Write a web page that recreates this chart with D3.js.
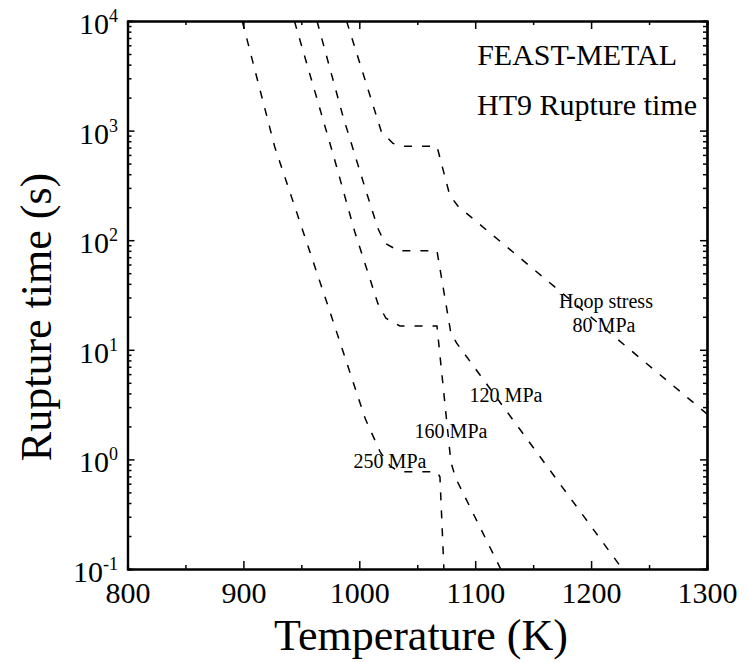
<!DOCTYPE html>
<html>
<head>
<meta charset="utf-8">
<script src="https://cdn.jsdelivr.net/npm/d3@7"></script>
<style>
body { margin: 0; background: #fff; }
text { font-family: "Liberation Serif", "Times New Roman", serif; fill: #000; }
</style>
</head>
<body>
<script>
// rupture curves, temperature (K) vs rupture time (s)
var temp80 = [989, 1019, 1029, 1037, 1067, 1078, 1085, 1300];
var time80 = [10000, 980, 765, 720, 720, 258, 205, 2.6];
var temp120 = [963.5, 986, 1006, 1016, 1022, 1034, 1067, 1079, 1084, 1227];
var time120 = [10000, 1340, 277, 129, 94, 80, 80, 14.2, 11.5, 0.1];
var temp160 = [944, 978, 996, 1016, 1023, 1035, 1067, 1079, 1083, 1122];
var time160 = [10000, 578, 120, 26.5, 19.4, 16.5, 16.5, 0.95, 0.68, 0.1];
var temp250 = [899, 927, 975, 1005, 1018, 1026.5, 1035, 1067, 1069.6, 1073];
var time250 = [10000, 713, 21.7, 2.37, 1.17, 0.87, 0.77, 0.77, 0.69, 0.1];

var xTicks = [800, 900, 1000, 1100, 1200, 1300];
var xMinor = [850, 950, 1050, 1150, 1250];
var yExp = [-1, 0, 1, 2, 3, 4];

var W = 748, H = 662;
var pLeft = 127.5, pRight = 707, pTop = 21, pBottom = 569;

var svg = d3.select("body").append("svg").attr("width", W).attr("height", H);

var x = d3.scaleLinear().domain([800, 1300]).range([pLeft, pRight]);
var y = d3.scaleLog().domain([0.1, 10000]).range([pBottom, pTop]);

var yMajor = yExp.map(function(e){ return Math.pow(10, e); });
var yMinor = [];
for (var e = -1; e < 4; e++) {
    for (var k = 2; k < 10; k++) yMinor.push(k * Math.pow(10, e));
}

svg.append("defs").append("clipPath").attr("id", "clip")
    .append("rect").attr("x", pLeft).attr("y", pTop)
    .attr("width", pRight - pLeft).attr("height", pBottom - pTop);

// curves
var series = [[temp80, time80], [temp120, time120], [temp160, time160], [temp250, time250]];
var line = d3.line().x(function(d){ return x(d[0]); }).y(function(d){ return y(d[1]); });
var curves = svg.append("g").attr("clip-path", "url(#clip)");
for (var i = 0; i < series.length; i++) {
    var pts = series[i][0].map(function(t, j){ return [t, series[i][1][j]]; });
    curves.append("path")
        .attr("d", line(pts))
        .attr("fill", "none")
        .attr("stroke", "#000")
        .attr("stroke-width", 1.5)
        .attr("stroke-dasharray", "8,10");
}

// axes, ticks pointing inward on all four sides
function styleAxis(g) {
    g.selectAll("path.domain").attr("stroke", "#000").attr("stroke-width", 2.2);
    g.selectAll(".tick line").attr("stroke", "#000").attr("stroke-width", 1.5);
}

var bottomAxis = svg.append("g").attr("transform", "translate(0," + pBottom + ")")
    .call(d3.axisBottom(x).tickValues(xTicks).tickFormat(d3.format("d"))
        .tickSize(-8).tickSizeOuter(0).tickPadding(13));
bottomAxis.selectAll("text").attr("font-size", 30).attr("font-family", "Liberation Serif").attr("fill", "#000");
bottomAxis.call(styleAxis);
svg.append("g").attr("transform", "translate(0," + pBottom + ")")
    .call(d3.axisBottom(x).tickValues(xMinor).tickSize(-4).tickFormat("")).call(styleAxis);

svg.append("g").attr("transform", "translate(0," + pTop + ")")
    .call(d3.axisTop(x).tickValues(xTicks).tickSize(-8).tickSizeOuter(0).tickFormat("")).call(styleAxis);
svg.append("g").attr("transform", "translate(0," + pTop + ")")
    .call(d3.axisTop(x).tickValues(xMinor).tickSize(-4).tickFormat("")).call(styleAxis);

svg.append("g").attr("transform", "translate(" + pLeft + ",0)")
    .call(d3.axisLeft(y).tickValues(yMajor).tickSize(-7).tickSizeOuter(0).tickFormat("")).call(styleAxis);
svg.append("g").attr("transform", "translate(" + pLeft + ",0)")
    .call(d3.axisLeft(y).tickValues(yMinor).tickSize(-4).tickFormat("")).call(styleAxis);
svg.append("g").attr("transform", "translate(" + pRight + ",0)")
    .call(d3.axisRight(y).tickValues(yMajor).tickSize(-7).tickSizeOuter(0).tickFormat("")).call(styleAxis);
svg.append("g").attr("transform", "translate(" + pRight + ",0)")
    .call(d3.axisRight(y).tickValues(yMinor).tickSize(-4).tickFormat("")).call(styleAxis);

// y tick labels with superscripts
var ylab = svg.append("g").selectAll("text").data(yExp).enter().append("text")
    .attr("x", 118)
    .attr("y", function(d){ return y(Math.pow(10, d)) + 13; })
    .attr("text-anchor", "end")
    .attr("font-size", 30);
ylab.append("tspan").text("10");
ylab.append("tspan").attr("font-size", 18).attr("dy", -12).text(function(d){ return d; });

// axis titles
svg.append("text").attr("x", 421).attr("y", 650)
    .attr("text-anchor", "middle").attr("font-size", 44).text("Temperature (K)");
svg.append("text").attr("transform", "translate(51,317) rotate(-90)")
    .attr("text-anchor", "middle").attr("font-size", 44).text("Rupture time (s)");

// titles inside the plot
svg.append("text").attr("x", 677).attr("y", 65).attr("text-anchor", "end")
    .attr("font-size", 30).text("FEAST-METAL");
svg.append("text").attr("x", 697).attr("y", 115).attr("text-anchor", "end")
    .attr("font-size", 30).text("HT9 Rupture time");

// curve labels
var notes = [
    ["Hoop stress", 606, 308],
    ["80 MPa", 604, 332],
    ["120 MPa", 506, 402],
    ["160 MPa", 451, 438],
    ["250 MPa", 390, 468]
];
svg.append("g").selectAll("text").data(notes).enter().append("text")
    .attr("x", function(d){ return d[1]; })
    .attr("y", function(d){ return d[2]; })
    .attr("text-anchor", "middle")
    .attr("font-size", 20)
    .text(function(d){ return d[0]; });
</script>
</body>
</html>
